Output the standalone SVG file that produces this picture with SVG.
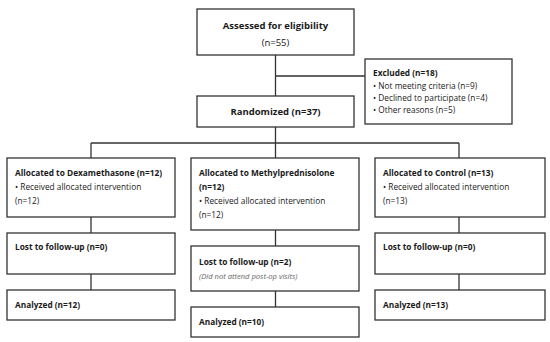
<svg xmlns="http://www.w3.org/2000/svg" width="550" height="342" viewBox="0 0 550 342">
<style>
.box{fill:#fff;stroke:#333;stroke-width:1.3}
.ln{fill:none;stroke:#333;stroke-width:1.3}
text{font-family:"Open Sans","Noto Sans","DejaVu Sans",sans-serif;font-size:8.3px;fill:#1a1a1a}
.b{font-weight:bold}
.t{font-size:9.5px}
.it{font-style:italic;font-size:7.6px;fill:#666}
.c{text-anchor:middle}
</style>
<rect width="550" height="342" fill="#fff"/>
<g id="connectors">
<path class="ln" d="M275.5 55V96M275.5 76H365M275.5 127V143M91 143H459M91 143V158M275.5 143V158M459 143V158M91 217V233M91 274V290M275.5 230V246M275.5 291V307M459 217V233M459 274V290"/>
</g>
<g id="assessed">
<rect class="box" x="197" y="9" width="157" height="46"/>
<text class="b c t" x="275.5" y="28.5">Assessed for eligibility</text>
<text class="c t" x="275.5" y="46">(n=55)</text>
</g>
<g id="excluded">
<rect class="box" x="365" y="59" width="147" height="65"/>
<text class="b" x="373" y="76">Excluded (n=18)</text>
<text x="373" y="88.5">• Not meeting criteria (n=9)</text>
<text x="373" y="100.5">• Declined to participate (n=4)</text>
<text x="373" y="112.5">• Other reasons (n=5)</text>
</g>
<g id="randomized">
<rect class="box" x="197" y="96" width="157" height="31"/>
<text class="b c t" x="275.5" y="115">Randomized (n=37)</text>
</g>
<g id="alloc-dex">
<rect class="box" x="7" y="158" width="168" height="59"/>
<text class="b" x="15" y="176">Allocated to Dexamethasone (n=12)</text>
<text x="15" y="190">• Received allocated intervention</text>
<text x="15" y="204">(n=12)</text>
</g>
<g id="alloc-methyl">
<rect class="box" x="191" y="158" width="168" height="72"/>
<text class="b" x="199" y="176">Allocated to Methylprednisolone</text>
<text class="b" x="199" y="190">(n=12)</text>
<text x="199" y="204">• Received allocated intervention</text>
<text x="199" y="217.5">(n=12)</text>
</g>
<g id="alloc-control">
<rect class="box" x="375" y="158" width="170" height="59"/>
<text class="b" x="383" y="176">Allocated to Control (n=13)</text>
<text x="383" y="190">• Received allocated intervention</text>
<text x="383" y="204">(n=13)</text>
</g>
<g id="lost-dex">
<rect class="box" x="7" y="233" width="168" height="41"/>
<text class="b" x="15" y="250">Lost to follow-up (n=0)</text>
</g>
<g id="lost-methyl">
<rect class="box" x="191" y="246" width="168" height="45"/>
<text class="b" x="199" y="265">Lost to follow-up (n=2)</text>
<text class="it" x="199" y="278.5">(Did not attend post-op visits)</text>
</g>
<g id="lost-control">
<rect class="box" x="375" y="233" width="170" height="41"/>
<text class="b" x="383" y="250">Lost to follow-up (n=0)</text>
</g>
<g id="analyzed-dex">
<rect class="box" x="7" y="290" width="168" height="30"/>
<text class="b" x="15" y="307.5">Analyzed (n=12)</text>
</g>
<g id="analyzed-methyl">
<rect class="box" x="191" y="307" width="168" height="30"/>
<text class="b" x="199" y="324.5">Analyzed (n=10)</text>
</g>
<g id="analyzed-control">
<rect class="box" x="375" y="290" width="170" height="30"/>
<text class="b" x="383" y="307.5">Analyzed (n=13)</text>
</g>
</svg>
